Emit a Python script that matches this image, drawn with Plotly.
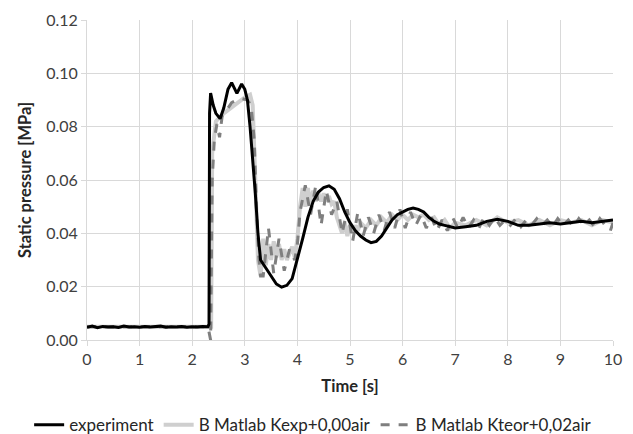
import plotly.graph_objects as go

# ---- experiment (black) ----
t_exp = [0.0, 0.1, 0.2, 0.3, 0.4, 0.5, 0.6, 0.7, 0.8, 0.9, 1.0, 1.1, 1.2, 1.3, 1.4, 1.5,
         1.6, 1.7, 1.8, 1.9, 2.0, 2.1, 2.2, 2.3, 2.32, 2.33, 2.35, 2.4, 2.45, 2.53, 2.6,
         2.68, 2.75, 2.85, 2.94, 3.0, 3.05, 3.1, 3.15, 3.2, 3.25, 3.3, 3.4, 3.5, 3.6, 3.7,
         3.8, 3.9, 4.0, 4.1, 4.2, 4.3, 4.4, 4.5, 4.6, 4.7, 4.8, 4.9, 5.0, 5.1, 5.2, 5.3,
         5.4, 5.5, 5.6, 5.7, 5.8, 5.9, 6.0, 6.1, 6.2, 6.3, 6.4, 6.5, 6.6, 6.7, 6.8, 6.9,
         7.0, 7.2, 7.4, 7.6, 7.8, 8.0, 8.2, 8.4, 8.6, 8.8, 9.0, 9.2, 9.4, 9.6, 9.8, 10.0]
p_exp = [0.0048, 0.0052, 0.0046, 0.0051, 0.0049, 0.0050, 0.0047, 0.0052, 0.0049, 0.0050,
         0.0048, 0.0051, 0.0049, 0.0050, 0.0052, 0.0048, 0.0050, 0.0049, 0.0051, 0.0048,
         0.0050, 0.0049, 0.0051, 0.0050, 0.0060, 0.0850, 0.0926, 0.0880, 0.0850, 0.0830,
         0.0870, 0.0940, 0.0965, 0.0925, 0.0960, 0.0940, 0.0900, 0.0800, 0.0680, 0.0550,
         0.0400, 0.0300, 0.0270, 0.0240, 0.0210, 0.0198, 0.0205, 0.0230, 0.0300, 0.0380,
         0.0460, 0.0520, 0.0555, 0.0572, 0.0578, 0.0565, 0.0530, 0.0480, 0.0440, 0.0410,
         0.0390, 0.0375, 0.0365, 0.0370, 0.0390, 0.0420, 0.0450, 0.0470, 0.0480, 0.0490,
         0.0495, 0.0490, 0.0480, 0.0460, 0.0445, 0.0435, 0.0430, 0.0425, 0.0420, 0.0425,
         0.0430, 0.0445, 0.0453, 0.0445, 0.0430, 0.0430, 0.0435, 0.0440, 0.0435, 0.0440,
         0.0445, 0.0440, 0.0445, 0.0450]

# ---- B Matlab Kexp+0,00air (light grey) ----
t_kexp = [0.0, 0.5, 1.0, 1.5, 2.0, 2.36, 2.38, 2.45, 2.6, 2.8, 3.0, 3.1, 3.15, 3.2, 3.25,
          3.3, 3.35, 3.4, 3.45, 3.5, 3.55, 3.6, 3.65, 3.7, 3.75, 3.8, 3.85, 3.9, 3.95,
          4.0, 4.05, 4.1, 4.15, 4.2, 4.25, 4.3, 4.35, 4.4, 4.45, 4.5, 4.55, 4.6, 4.65,
          4.7, 4.75, 4.8, 4.85, 4.9, 4.95, 5.0, 5.05, 5.1, 5.15, 5.2, 5.3, 5.4, 5.5, 5.6,
          5.7, 5.8, 5.9, 6.0, 6.1, 6.2, 6.3, 6.4, 6.5, 6.6, 6.7, 6.8, 6.9, 7.0, 7.2, 7.4,
          7.6, 7.8, 8.0, 8.2, 8.4, 8.6, 8.8, 9.0, 9.2, 9.4, 9.6, 9.8, 10.0]
p_kexp = [0.0050, 0.0050, 0.0050, 0.0050, 0.0050, 0.0050, 0.0700, 0.0820, 0.0850, 0.0880,
          0.0910, 0.0920, 0.0880, 0.0600, 0.0300, 0.0240, 0.0380, 0.0280, 0.0360, 0.0300,
          0.0370, 0.0310, 0.0360, 0.0300, 0.0340, 0.0300, 0.0330, 0.0350, 0.0310, 0.0380,
          0.0500, 0.0570, 0.0500, 0.0570, 0.0510, 0.0560, 0.0520, 0.0550, 0.0520, 0.0550,
          0.0520, 0.0540, 0.0510, 0.0520, 0.0460, 0.0430, 0.0400, 0.0440, 0.0390, 0.0430,
          0.0400, 0.0430, 0.0410, 0.0440, 0.0420, 0.0450, 0.0430, 0.0460, 0.0440, 0.0470,
          0.0450, 0.0470, 0.0450, 0.0470, 0.0460, 0.0470, 0.0450, 0.0460, 0.0430, 0.0450,
          0.0420, 0.0440, 0.0430, 0.0450, 0.0430, 0.0460, 0.0440, 0.0450, 0.0430, 0.0450,
          0.0430, 0.0450, 0.0440, 0.0450, 0.0430, 0.0450, 0.0440]

# ---- B Matlab Kteor+0,02air (dark grey dashed) ----
t_kteor = [0.0, 0.5, 1.0, 1.5, 2.0, 2.3, 2.35, 2.38, 2.42, 2.47, 2.52, 2.57, 2.65, 2.75,
           2.85, 2.95, 3.05, 3.12, 3.18, 3.22, 3.27, 3.3, 3.35, 3.45, 3.55, 3.65, 3.75,
           3.85, 3.95, 4.0, 4.05, 4.15, 4.25, 4.35, 4.45, 4.55, 4.65, 4.75, 4.85, 4.95,
           5.05, 5.15, 5.25, 5.35, 5.45, 5.55, 5.65, 5.75, 5.85, 5.95, 6.05, 6.15, 6.25,
           6.35, 6.45, 6.55, 6.65, 6.75, 6.85, 6.95, 7.05, 7.15, 7.25, 7.35, 7.45, 7.55,
           7.65, 7.75, 7.85, 7.95, 8.05, 8.15, 8.25, 8.35, 8.45, 8.55, 8.65, 8.75, 8.85,
           8.95, 9.05, 9.15, 9.25, 9.35, 9.45, 9.55, 9.65, 9.75, 9.85, 9.95, 10.0]
p_kteor = [0.0050, 0.0050, 0.0050, 0.0050, 0.0050, 0.0050, 0.0000, 0.0600, 0.0750, 0.0810,
           0.0760, 0.0840, 0.0860, 0.0890, 0.0900, 0.0905, 0.0900, 0.0880, 0.0750, 0.0500,
           0.0300, 0.0240, 0.0240, 0.0420, 0.0250, 0.0380, 0.0260, 0.0340, 0.0300, 0.0360,
           0.0480, 0.0580, 0.0470, 0.0580, 0.0430, 0.0560, 0.0470, 0.0520, 0.0400, 0.0490,
           0.0370, 0.0480, 0.0390, 0.0460, 0.0400, 0.0470, 0.0410, 0.0480, 0.0420, 0.0490,
           0.0420, 0.0480, 0.0430, 0.0470, 0.0420, 0.0460, 0.0410, 0.0450, 0.0410, 0.0460,
           0.0420, 0.0460, 0.0420, 0.0450, 0.0420, 0.0460, 0.0430, 0.0460, 0.0430, 0.0450,
           0.0430, 0.0455, 0.0425, 0.0450, 0.0430, 0.0455, 0.0430, 0.0450, 0.0425, 0.0455,
           0.0430, 0.0450, 0.0425, 0.0455, 0.0430, 0.0450, 0.0425, 0.0455, 0.0430, 0.0410,
           0.0440]

x_ticks = [0, 1, 2, 3, 4, 5, 6, 7, 8, 9, 10]
y_ticks = [0.00, 0.02, 0.04, 0.06, 0.08, 0.10, 0.12]

FONT = "Lato"

fig = go.Figure()
fig.add_trace(go.Scatter(x=t_kexp, y=p_kexp, mode="lines", name="B Matlab Kexp+0,00air",
                         line=dict(color="#cfcfcf", width=4), legendrank=2))
fig.add_trace(go.Scatter(x=t_kteor, y=p_kteor, mode="lines", name="B Matlab Kteor+0,02air",
                         line=dict(color="#7f7f7f", width=3, dash="dash"), legendrank=3))
fig.add_trace(go.Scatter(x=t_exp, y=p_exp, mode="lines", name="experiment",
                         line=dict(color="#000000", width=3), legendrank=1))

# page has an 8px body margin, so the figure is sized 625x426 and offset accordingly
fig.update_layout(
    width=625, height=426,
    margin=dict(l=79, r=20, t=12, b=94, autoexpand=False),
    paper_bgcolor="white", plot_bgcolor="white",
    font=dict(family=FONT, size=16, color="#404040"),
    showlegend=True,
    legend=dict(orientation="h", x=-0.11, xanchor="left", y=-0.266, yanchor="middle",
                font=dict(family=FONT, size=17, color="#262626"), itemwidth=30,
                traceorder="normal"),
)
fig.update_xaxes(
    range=[0, 10], tickvals=x_ticks, ticktext=[str(v) for v in x_ticks],
    showgrid=True, gridcolor="#d9d9d9", gridwidth=1,
    showline=True, linecolor="#d9d9d9", linewidth=1,
    ticks="outside", ticklen=5, tickcolor="#d9d9d9",
    zeroline=False, automargin=False,
    title=dict(text="<b>Time [s]</b>", font=dict(family=FONT, size=16.5, color="#262626"), standoff=13),
)
fig.update_yaxes(
    range=[0, 0.12], tickvals=y_ticks, ticktext=["%.2f" % v for v in y_ticks],
    showgrid=True, gridcolor="#d9d9d9", gridwidth=1,
    showline=True, linecolor="#d9d9d9", linewidth=1,
    ticks="outside", ticklen=5, tickcolor="#d9d9d9",
    zeroline=False, automargin=False,
    title=dict(text="<b>Static pressure [MPa]</b>", font=dict(family=FONT, size=16.5, color="#262626"), standoff=10),
)

fig.write_html("out.html")
